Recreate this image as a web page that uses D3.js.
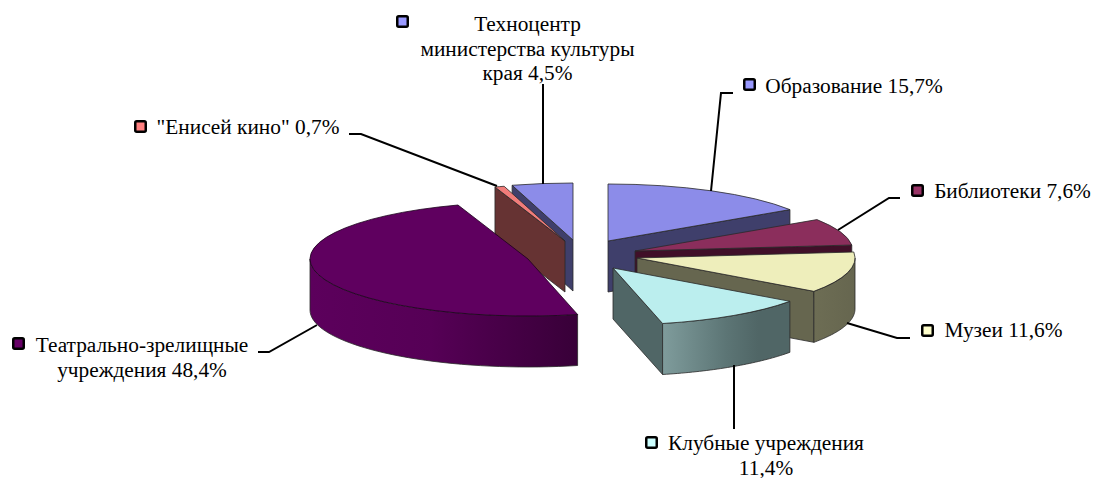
<!DOCTYPE html>
<html><head><meta charset="utf-8">
<script src="https://cdn.jsdelivr.net/npm/d3@7/dist/d3.min.js"></script>
<style>html,body{margin:0;padding:0;background:#fff}svg{display:block}text{font-family:"Liberation Serif",serif;font-size:21.33px;fill:#000}</style>
</head><body><svg id="c" width="1095" height="478"></svg>
<script>
const categories = ["Образование","Библиотеки","Музеи","Клубные учреждения","Театрально-зрелищные учреждения","\"Енисей кино\"","Техноцентр министерства культуры края"];
const shares = [15.7,7.6,11.6,11.4,48.4,0.7,4.5];
const topColors = ["#8c8ce9","#8b2e5c","#eeeebb","#bbeeee","#5f005f","#f07c7a","#8c8ce9"];
const wallColors = ["#3f3f6b","#400f28","#66664f","#506666","#663333","#663333","#3f3f6b"];
const markerColors = ["#9999ff","#993366","#ffffcc","#ccffff","#660066","#ff8080","#9999ff"];
const apexX = [608,635,637,613,528,565,573];
const apexY = [241,251,258,268,259,241,240];
const labelLines = [["Образование 15,7%"],["Библиотеки 7,6%"],["Музеи 11,6%"],["Клубные учреждения","11,4%"],["Театрально-зрелищные","учреждения 48,4%"],["\"Енисей кино\" 0,7%"],["Техноцентр","министерства культуры","края 4,5%"]];
const labelX = [854,1012.5,1003.5,766,142,248,527.5];
const labelY = [93,198,337,450,352,134,31];
const markerX = [743,911,921,645,12,134,396];
const markerY = [78,184,324,436,337,120,15];
const leaders = [[[733,93],[721,93],[711,191]],[[900,198],[889,198],[838,230]],[[910,338],[897,338],[847,323]],[[734,429],[734,365]],[[258,352],[269,352],[317,325]],[[349,134],[361,134],[497,186]],[[543,84],[543,184]]];
const rx = 218, ry = 57, depth = 51;

const svg = d3.select("#c");
const defs = svg.append("defs");
function grad(id, stops){
  const g = defs.append("linearGradient").attr("id",id).attr("x1","0").attr("x2","1").attr("y1","0").attr("y2","0");
  stops.forEach(s=>g.append("stop").attr("offset",s[0]).attr("stop-color",s[1]));
}
grad("g4",[[0,"#5c005c"],[0.45,"#560056"],[1,"#380038"]]);
grad("g3",[[0,"#7f9c9c"],[0.5,"#5c7575"],[0.75,"#506666"],[1,"#506666"]]);
grad("g2",[[0,"#6d6d54"],[1,"#66664f"]]);

const arcs = d3.pie().sort(null).value(d=>d)(shares);
const order = [6,5,0,1,2,3,4];
const px = (i,a)=>apexX[i]+rx*Math.sin(a);
const py = (i,a)=>apexY[i]-ry*Math.cos(a);
const line = d3.line();
const edge = "#2a2a2a";

function wallPath(i,a0,a1){
  const n = 40, pts = d3.range(n+1).map(k=>a0+(a1-a0)*k/n);
  const top = pts.map(a=>[px(i,a),py(i,a)]);
  const bot = pts.slice().reverse().map(a=>[px(i,a),py(i,a)+depth]);
  return line(top.concat(bot))+"Z";
}
function radialWall(i,a){
  const p=[px(i,a),py(i,a)], c=[apexX[i],apexY[i]];
  return line([c,p,[p[0],p[1]+depth],[c[0],c[1]+depth]])+"Z";
}
const arcGen = d3.arc().innerRadius(0).outerRadius(rx);
order.forEach(i=>{
  const d = arcs[i], g = svg.append("g");
  const paint = (path,fill)=>g.append("path").attr("d",path).attr("fill",fill).attr("stroke",edge).attr("stroke-width",0.8).attr("stroke-linejoin","round");
  if(i<=3) paint(radialWall(i,d.endAngle),wallColors[i]);
  if(i===5||i===6) paint(radialWall(i,d.startAngle),wallColors[i]);
  if(i===2) paint(wallPath(i,Math.PI/2,d.endAngle),"url(#g2)");
  if(i===3) paint(wallPath(i,d.startAngle,d.endAngle),"url(#g3)");
  if(i===4) paint(wallPath(i,d.startAngle,Math.min(d.endAngle,Math.PI*1.5)),"url(#g4)");
  g.append("path").attr("d",arcGen(d))
    .attr("transform",`translate(${apexX[i]},${apexY[i]}) scale(1,${ry/rx})`)
    .attr("fill",topColors[i]).attr("stroke",i===4?"#1a001a":edge).attr("stroke-width",0.8).attr("vector-effect","non-scaling-stroke");
});
leaders.forEach(l=>svg.append("path").attr("d",line(l)).attr("fill","none").attr("stroke","#000").attr("stroke-width",2));
categories.forEach((c,i)=>{
  svg.append("rect").attr("class","key").attr("x",markerX[i]+1.25).attr("y",markerY[i]+1.25).attr("width",10.5).attr("height",10.5).attr("rx",1.5)
    .attr("fill",markerColors[i]).attr("stroke","#000").attr("stroke-width",2.5);
  const t = svg.append("text").attr("text-anchor","middle").attr("aria-label",c);
  labelLines[i].forEach((s,k)=>t.append("tspan").attr("x",labelX[i]).attr("y",labelY[i]+k*24.5).text(s));
});
</script></body></html>
